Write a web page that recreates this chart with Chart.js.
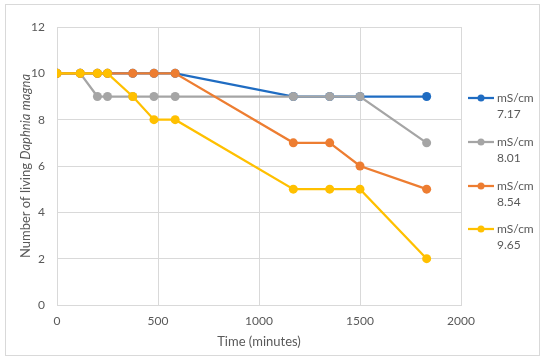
<!DOCTYPE html>
<html>
<head>
<meta charset="utf-8">
<script src="https://cdn.jsdelivr.net/npm/chart.js@4/dist/chart.umd.min.js"></script>
<style>
  html, body { margin: 0; padding: 0; background: #fff; }
  #wrap { position: relative; width: 550px; height: 363px; }
  #frame { position: absolute; left: 5px; top: 4px; width: 535px; height: 352px; border: 1px solid #d9d9d9; box-sizing: border-box; }
  canvas { position: absolute; left: 0; top: 0; }
</style>
</head>
<body>
<div id="wrap">
  <div id="frame"></div>
  <canvas id="chart" width="550" height="363"></canvas>
</div>
<script>
const times = [0, 115, 200, 250, 375, 480, 585, 1170, 1350, 1500, 1830];
const series717 = [10, 10, 10, 10, 10, 10, 10, 9, 9, 9, 9];
const series801 = [10, 10, 9, 9, 9, 9, 9, 9, 9, 9, 7];
const series854 = [10, 10, 10, 10, 10, 10, 10, 7, 7, 6, 5];
const series965 = [10, 10, 10, 10, 9, 8, 8, 5, 5, 5, 2];
const seriesNames = [['mS/cm', '7.17'], ['mS/cm', '8.01'], ['mS/cm', '8.54'], ['mS/cm', '9.65']];
const colors = ['#1f6cc2', '#a5a5a5', '#ed7d31', '#ffc000'];
const xTicks = [0, 500, 1000, 1500, 2000];
const yTicks = [0, 2, 4, 6, 8, 10, 12];

const textColor = '#595959';
const gridColor = '#d9d9d9';
const fontFamily = 'Lato, "Open Sans", sans-serif';

const toPoints = (vals) => vals.map((v, i) => ({ x: times[i], y: v }));
const allSeries = [series717, series801, series854, series965];

const datasets = allSeries.map((vals, i) => ({
    label: seriesNames[i].join(' '),
    data: toPoints(vals),
    borderColor: colors[i],
    backgroundColor: colors[i],
    borderWidth: 2.25,
    pointRadius: 4.5,
    pointHoverRadius: 4.5,
    pointBorderWidth: 0,
    tension: 0,
    order: 4 - i
}));

// axis titles + right side legend, drawn on the canvas
const extras = {
    id: 'extras',
    afterDraw(chart) {
        const ctx = chart.ctx;
        const area = chart.chartArea;
        ctx.save();
        ctx.fillStyle = textColor;
        ctx.textBaseline = 'middle';

        // x title
        ctx.font = '13px ' + fontFamily;
        ctx.textAlign = 'center';
        ctx.fillText('Time (minutes)', (area.left + area.right) / 2, 342);

        // y title with italic species name
        const parts = [['Number of living ', ''], ['Daphnia magna', 'italic ']];
        ctx.save();
        ctx.translate(26, (area.top + area.bottom) / 2);
        ctx.rotate(-Math.PI / 2);
        let total = 0;
        parts.forEach(p => { ctx.font = p[1] + '13px ' + fontFamily; total += ctx.measureText(p[0]).width; });
        let px = -total / 2;
        ctx.textAlign = 'left';
        parts.forEach(p => {
            ctx.font = p[1] + '13px ' + fontFamily;
            ctx.fillText(p[0], px, 0);
            px += ctx.measureText(p[0]).width;
        });
        ctx.restore();

        // legend
        const legendY = [98, 142, 186, 229];
        ctx.font = '12px ' + fontFamily;
        ctx.textAlign = 'left';
        seriesNames.forEach((name, i) => {
            const y = legendY[i];
            ctx.strokeStyle = colors[i];
            ctx.lineWidth = 2.25;
            ctx.beginPath();
            ctx.moveTo(468, y);
            ctx.lineTo(494, y);
            ctx.stroke();
            ctx.fillStyle = colors[i];
            ctx.beginPath();
            ctx.arc(481, y, 3.5, 0, Math.PI * 2);
            ctx.fill();
            ctx.fillStyle = textColor;
            ctx.fillText(name[0], 497, y);
            ctx.fillText(name[1], 497, y + 16);
        });
        ctx.restore();
    }
};

new Chart(document.getElementById('chart'), {
    type: 'line',
    data: { datasets: datasets },
    options: {
        responsive: false,
        animation: false,
        layout: { padding: { left: 0, top: 27, right: 89, bottom: 0 } },
        plugins: {
            legend: { display: false },
            tooltip: { enabled: false }
        },
        scales: {
            x: {
                type: 'linear',
                min: 0,
                max: 2000,
                afterBuildTicks: (scale) => { scale.ticks = xTicks.map(v => ({ value: v })); },
                afterFit: (scale) => { scale.height = 58; },
                grid: { color: gridColor, lineWidth: 1, drawTicks: false },
                border: { color: gridColor, width: 1 },
                ticks: { color: textColor, padding: 9, font: { family: fontFamily, size: 12 }, callback: (v) => String(v) }
            },
            y: {
                min: 0,
                max: 12,
                afterBuildTicks: (scale) => { scale.ticks = yTicks.map(v => ({ value: v })); },
                afterFit: (scale) => { scale.width = 57; },
                grid: { color: gridColor, lineWidth: 1, drawTicks: false },
                border: { color: gridColor, width: 1 },
                ticks: { color: textColor, padding: 12, font: { family: fontFamily, size: 12 }, callback: (v) => String(v) }
            }
        }
    },
    plugins: [extras]
});
</script>
</body>
</html>
